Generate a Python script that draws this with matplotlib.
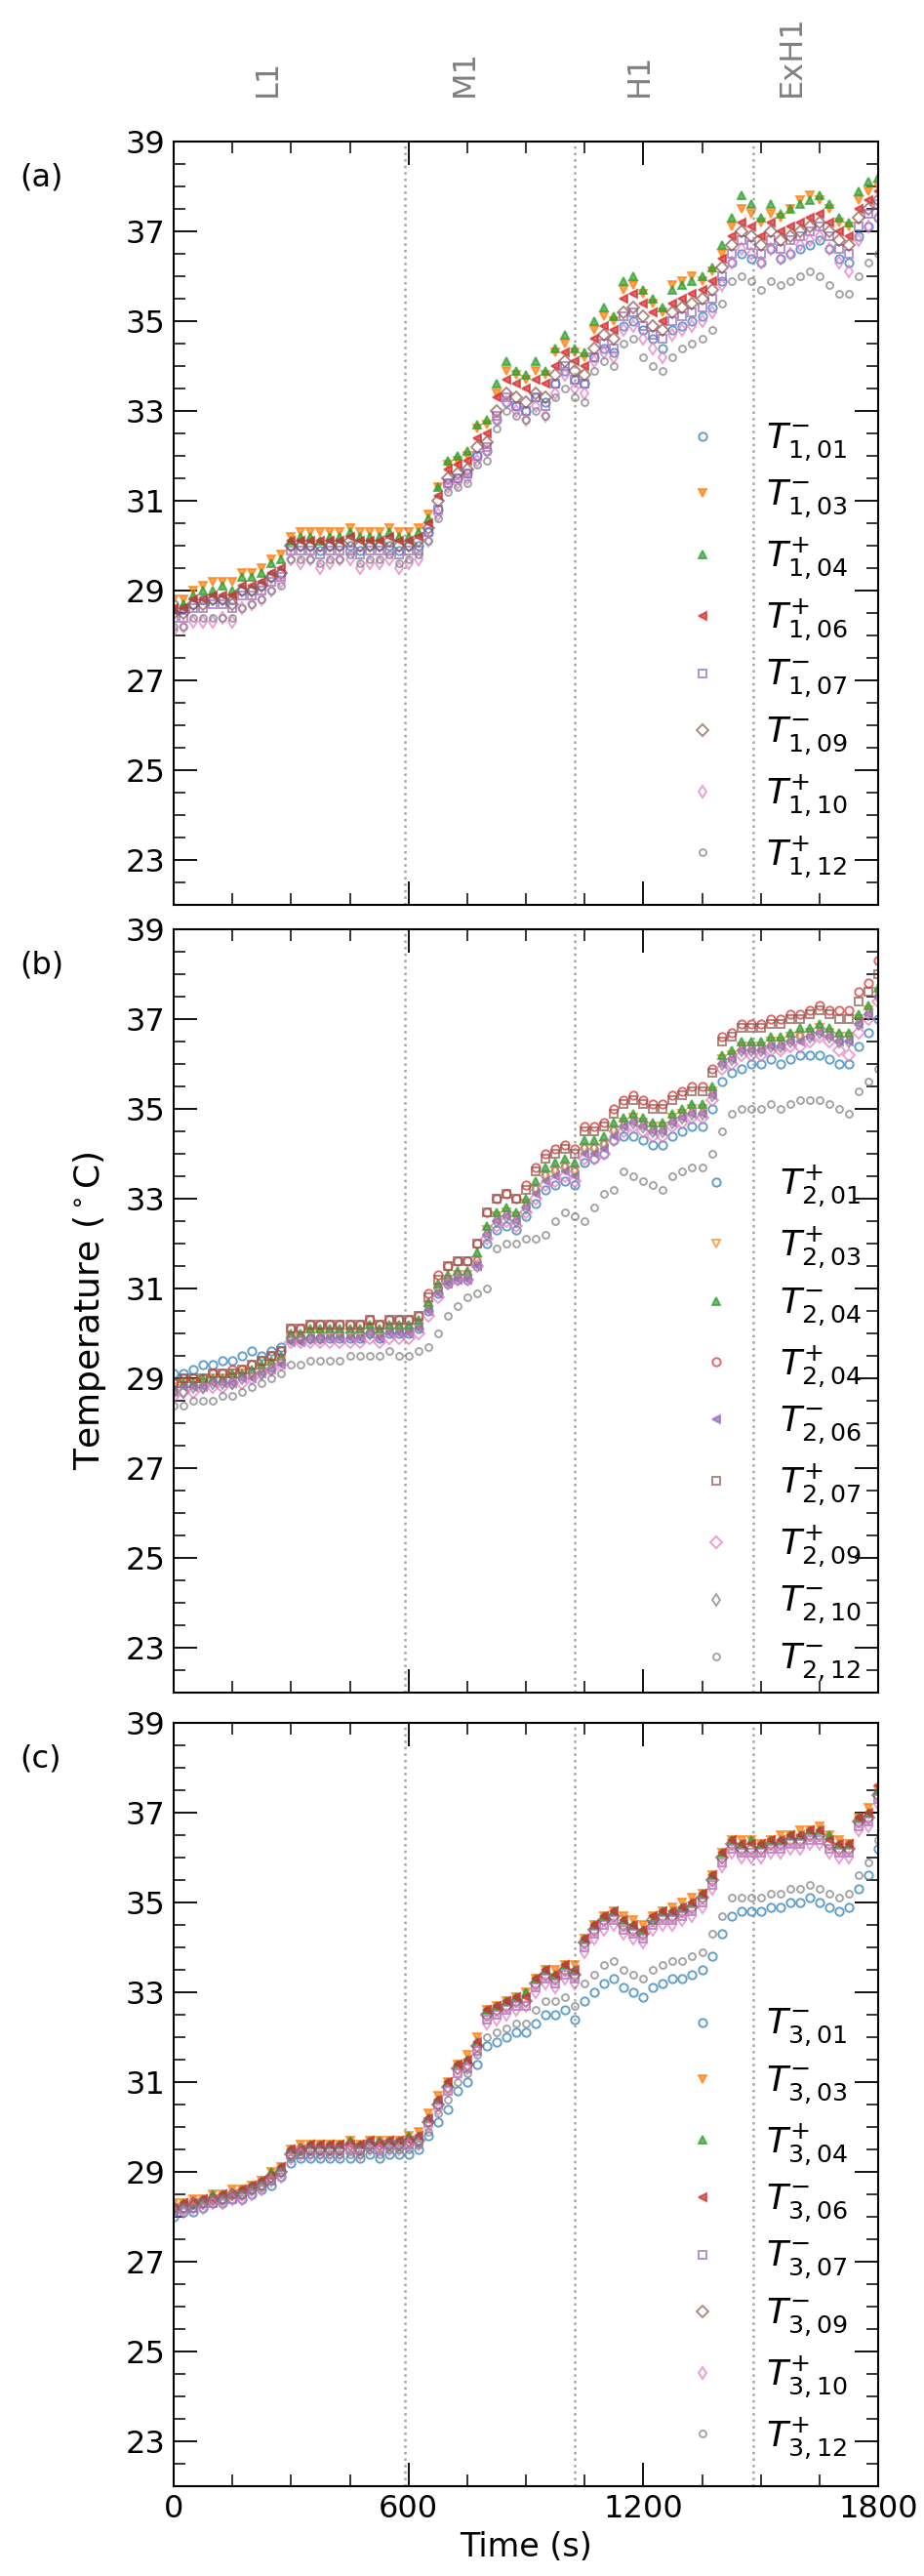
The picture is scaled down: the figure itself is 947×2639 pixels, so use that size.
import matplotlib
matplotlib.use("Agg")
import matplotlib.pyplot as plt
import numpy as np
from matplotlib.ticker import MultipleLocator, FixedLocator

# sample times (s), one reading every 25 s
time_s = np.arange(0, 1801, 25)

# ---------------- panel (a) ----------------
a_labels = [r"$T^{-}_{1,01}$", r"$T^{-}_{1,03}$", r"$T^{+}_{1,04}$", r"$T^{+}_{1,06}$",
            r"$T^{-}_{1,07}$", r"$T^{-}_{1,09}$", r"$T^{+}_{1,10}$", r"$T^{+}_{1,12}$"]
a_T101 = [28.7, 28.6, 28.7, 28.8, 28.8, 28.8, 28.8, 29.0, 29.0, 29.1, 29.3, 29.4,
          30.0, 30.0, 30.0, 29.9, 30.0, 30.0, 30.0, 29.9, 30.0, 30.0, 30.0, 29.9,
          30.0, 30.0, 30.3, 30.8, 31.4, 31.5, 31.6, 32.0, 32.1, 32.8, 33.2, 33.1,
          33.0, 33.3, 33.2, 33.6, 33.9, 33.7, 33.6, 34.2, 34.4, 34.3, 34.9, 35.0,
          34.8, 34.6, 34.4, 34.8, 34.9, 35.0, 35.1, 35.3, 35.9, 36.3, 36.5, 36.4,
          36.3, 36.6, 36.4, 36.5, 36.6, 36.7, 36.8, 36.6, 36.4, 36.3, 36.9, 37.1, 37.3]
a_T103 = [28.8, 28.8, 29.0, 29.1, 29.2, 29.2, 29.2, 29.4, 29.4, 29.5, 29.7, 29.8,
          30.2, 30.3, 30.3, 30.3, 30.3, 30.3, 30.4, 30.3, 30.3, 30.3, 30.4, 30.3,
          30.3, 30.4, 30.7, 31.3, 31.8, 31.9, 32.0, 32.6, 32.7, 33.4, 33.9, 33.8,
          33.7, 33.9, 33.8, 34.3, 34.5, 34.3, 34.2, 34.8, 35.1, 35.0, 35.7, 35.8,
          35.6, 35.4, 35.2, 35.8, 35.9, 36.0, 35.9, 36.1, 36.5, 37.1, 37.5, 37.4,
          37.2, 37.4, 37.3, 37.5, 37.7, 37.8, 37.7, 37.5, 37.2, 37.1, 37.7, 37.9, 38.0]
a_T104 = [28.6, 28.7, 28.9, 29.0, 29.0, 29.1, 29.0, 29.3, 29.3, 29.4, 29.6, 29.7,
          30.1, 30.2, 30.2, 30.1, 30.2, 30.2, 30.3, 30.2, 30.2, 30.2, 30.3, 30.2,
          30.2, 30.3, 30.6, 31.3, 31.9, 32.0, 32.1, 32.7, 32.8, 33.6, 34.1, 33.9,
          33.8, 34.1, 33.9, 34.4, 34.7, 34.4, 34.3, 35.0, 35.3, 35.1, 35.9, 36.0,
          35.7, 35.5, 35.3, 35.7, 35.8, 35.9, 36.0, 36.2, 36.7, 37.3, 37.8, 37.6,
          37.3, 37.6, 37.4, 37.5, 37.6, 37.7, 37.8, 37.6, 37.3, 37.2, 37.9, 38.1, 38.2]
a_T106 = [28.6, 28.6, 28.8, 28.8, 28.9, 28.9, 28.9, 29.1, 29.1, 29.2, 29.4, 29.5,
          30.1, 30.1, 30.1, 30.1, 30.1, 30.1, 30.2, 30.1, 30.1, 30.1, 30.2, 30.1,
          30.1, 30.2, 30.5, 31.1, 31.7, 31.8, 31.9, 32.4, 32.5, 33.3, 33.7, 33.6,
          33.5, 33.7, 33.6, 34.0, 34.3, 34.1, 34.0, 34.6, 34.9, 34.8, 35.5, 35.6,
          35.4, 35.2, 35.0, 35.4, 35.5, 35.6, 35.7, 35.9, 36.4, 36.9, 37.2, 37.1,
          36.9, 37.2, 37.0, 37.1, 37.2, 37.3, 37.4, 37.2, 37.0, 36.9, 37.5, 37.7, 37.9]
a_T107 = [28.4, 28.4, 28.6, 28.6, 28.7, 28.7, 28.6, 28.9, 28.9, 29.0, 29.2, 29.3,
          29.9, 29.9, 29.9, 29.8, 29.9, 29.9, 29.9, 29.8, 29.9, 29.9, 29.9, 29.8,
          29.9, 29.9, 30.3, 30.8, 31.4, 31.5, 31.6, 32.0, 32.2, 32.9, 33.3, 33.1,
          33.0, 33.3, 33.1, 33.6, 34.0, 33.7, 33.6, 34.2, 34.5, 34.4, 35.1, 35.2,
          34.9, 34.7, 34.6, 35.0, 35.1, 35.2, 35.3, 35.5, 36.0, 36.5, 36.8, 36.7,
          36.5, 36.8, 36.6, 36.8, 36.9, 37.0, 37.1, 36.9, 36.6, 36.5, 37.1, 37.4, 37.6]
a_T109 = [28.5, 28.5, 28.7, 28.7, 28.8, 28.8, 28.7, 29.0, 29.0, 29.1, 29.3, 29.4,
          30.0, 30.0, 30.0, 30.0, 30.0, 30.0, 30.1, 30.0, 30.0, 30.0, 30.1, 30.0,
          30.0, 30.1, 30.4, 31.0, 31.5, 31.6, 31.7, 32.2, 32.3, 33.0, 33.4, 33.3,
          33.2, 33.4, 33.3, 33.8, 34.1, 33.9, 33.8, 34.4, 34.7, 34.6, 35.2, 35.3,
          35.1, 34.9, 34.8, 35.2, 35.3, 35.4, 35.5, 35.7, 36.2, 36.7, 37.0, 36.9,
          36.7, 37.0, 36.8, 36.9, 37.0, 37.1, 37.2, 37.0, 36.8, 36.7, 37.3, 37.5, 37.7]
a_T110 = [28.1, 28.2, 28.3, 28.3, 28.3, 28.4, 28.3, 28.6, 28.7, 28.8, 29.0, 29.2,
          29.7, 29.6, 29.7, 29.5, 29.6, 29.7, 29.7, 29.5, 29.6, 29.6, 29.7, 29.5,
          29.6, 29.7, 30.1, 30.7, 31.3, 31.4, 31.5, 31.9, 32.1, 32.8, 33.2, 33.0,
          32.8, 33.1, 32.9, 33.4, 33.8, 33.5, 33.4, 34.1, 34.3, 34.2, 34.8, 34.9,
          34.6, 34.4, 34.2, 34.7, 34.8, 34.9, 35.0, 35.2, 35.8, 36.3, 36.6, 36.5,
          36.3, 36.6, 36.4, 36.5, 36.7, 36.8, 36.9, 36.6, 36.3, 36.1, 36.8, 37.1, 37.3]
a_T112 = [28.2, 28.2, 28.4, 28.4, 28.4, 28.4, 28.4, 28.6, 28.7, 28.8, 29.0, 29.1,
          29.7, 29.7, 29.7, 29.6, 29.7, 29.7, 29.8, 29.6, 29.7, 29.7, 29.8, 29.6,
          29.7, 29.8, 30.1, 30.6, 31.2, 31.3, 31.4, 31.8, 31.9, 32.6, 33.0, 32.9,
          32.8, 33.0, 32.9, 33.3, 33.5, 33.3, 33.2, 33.9, 34.1, 34.0, 34.5, 34.6,
          34.2, 34.0, 33.9, 34.2, 34.4, 34.5, 34.6, 34.8, 35.4, 35.9, 36.0, 35.9,
          35.7, 35.9, 35.8, 35.9, 36.0, 36.1, 36.0, 35.8, 35.6, 35.6, 36.0, 36.3, 36.5]

# ---------------- panel (b) ----------------
b_labels = [r"$T^{+}_{2,01}$", r"$T^{+}_{2,03}$", r"$T^{-}_{2,04}$", r"$T^{+}_{2,04}$",
            r"$T^{-}_{2,06}$", r"$T^{+}_{2,07}$", r"$T^{+}_{2,09}$", r"$T^{-}_{2,10}$",
            r"$T^{-}_{2,12}$"]
b_T201 = [29.1, 29.1, 29.2, 29.3, 29.3, 29.4, 29.4, 29.5, 29.6, 29.5, 29.6, 29.7,
          29.9, 29.9, 29.9, 29.9, 29.9, 29.9, 29.9, 29.9, 30.0, 29.9, 30.0, 30.0,
          30.0, 30.1, 30.5, 30.9, 31.1, 31.2, 31.2, 31.5, 32.0, 32.3, 32.4, 32.3,
          32.6, 32.9, 33.2, 33.3, 33.4, 33.3, 33.8, 33.9, 34.0, 34.3, 34.4, 34.4,
          34.3, 34.2, 34.2, 34.4, 34.5, 34.6, 34.6, 35.0, 35.6, 35.8, 35.9, 36.0,
          36.0, 36.1, 36.0, 36.1, 36.2, 36.2, 36.2, 36.1, 36.0, 36.0, 36.4, 36.7, 37.0]
b_T203 = [28.8, 28.9, 28.9, 28.9, 29.0, 29.0, 29.0, 29.1, 29.1, 29.2, 29.3, 29.4,
          29.9, 29.9, 30.0, 30.0, 30.0, 30.0, 30.0, 30.0, 30.1, 30.0, 30.1, 30.1,
          30.1, 30.2, 30.6, 31.0, 31.2, 31.3, 31.3, 31.6, 32.3, 32.6, 32.7, 32.6,
          32.9, 33.2, 33.5, 33.6, 33.7, 33.6, 34.1, 34.1, 34.2, 34.5, 34.7, 34.8,
          34.7, 34.6, 34.6, 34.8, 34.9, 35.0, 35.0, 35.4, 36.1, 36.2, 36.4, 36.4,
          36.4, 36.5, 36.5, 36.6, 36.6, 36.7, 36.8, 36.7, 36.6, 36.6, 37.0, 37.2, 37.6]
b_T204m = [28.8, 28.9, 28.9, 29.0, 29.0, 29.0, 29.1, 29.1, 29.2, 29.3, 29.4, 29.5,
           30.0, 30.0, 30.1, 30.1, 30.1, 30.1, 30.1, 30.1, 30.2, 30.1, 30.2, 30.2,
           30.2, 30.3, 30.7, 31.1, 31.3, 31.4, 31.4, 31.8, 32.4, 32.7, 32.8, 32.7,
           33.0, 33.4, 33.7, 33.8, 33.9, 33.8, 34.3, 34.3, 34.4, 34.7, 34.8, 34.9,
           34.8, 34.7, 34.7, 34.9, 35.0, 35.1, 35.1, 35.5, 36.2, 36.3, 36.5, 36.5,
           36.5, 36.6, 36.6, 36.7, 36.8, 36.8, 36.9, 36.8, 36.7, 36.7, 37.1, 37.3, 37.7]
b_T204p = [28.9, 29.0, 29.0, 29.0, 29.1, 29.1, 29.2, 29.2, 29.3, 29.4, 29.5, 29.6,
           30.1, 30.1, 30.2, 30.2, 30.2, 30.2, 30.2, 30.2, 30.3, 30.2, 30.3, 30.3,
           30.3, 30.4, 30.9, 31.3, 31.5, 31.6, 31.6, 32.0, 32.7, 33.0, 33.1, 33.0,
           33.3, 33.7, 34.0, 34.1, 34.2, 34.1, 34.6, 34.6, 34.7, 35.0, 35.2, 35.3,
           35.2, 35.1, 35.1, 35.3, 35.4, 35.5, 35.5, 35.9, 36.6, 36.7, 36.9, 36.9,
           36.9, 37.0, 37.0, 37.1, 37.1, 37.2, 37.3, 37.2, 37.2, 37.2, 37.6, 37.8, 38.3]
b_T206 = [28.7, 28.8, 28.8, 28.8, 28.9, 28.9, 28.9, 29.0, 29.0, 29.1, 29.2, 29.3,
          29.8, 29.8, 29.9, 29.9, 29.9, 29.9, 29.9, 29.9, 30.0, 29.9, 30.0, 30.0,
          30.0, 30.1, 30.5, 30.9, 31.1, 31.2, 31.2, 31.5, 32.2, 32.5, 32.6, 32.5,
          32.8, 33.1, 33.4, 33.5, 33.6, 33.5, 34.0, 34.0, 34.1, 34.4, 34.6, 34.7,
          34.6, 34.5, 34.5, 34.7, 34.8, 34.9, 34.9, 35.3, 36.0, 36.1, 36.3, 36.3,
          36.3, 36.4, 36.4, 36.5, 36.5, 36.6, 36.7, 36.6, 36.5, 36.5, 36.9, 37.1, 37.5]
b_T207 = [28.9, 29.0, 29.0, 29.0, 29.1, 29.1, 29.1, 29.2, 29.3, 29.4, 29.5, 29.6,
          30.1, 30.1, 30.2, 30.2, 30.2, 30.2, 30.2, 30.2, 30.3, 30.2, 30.3, 30.3,
          30.3, 30.4, 30.8, 31.2, 31.5, 31.6, 31.6, 32.0, 32.7, 33.0, 33.1, 33.0,
          33.2, 33.6, 33.9, 34.0, 34.1, 34.0, 34.5, 34.5, 34.6, 34.9, 35.1, 35.2,
          35.1, 35.0, 35.0, 35.2, 35.3, 35.4, 35.4, 35.8, 36.5, 36.6, 36.8, 36.8,
          36.8, 36.9, 36.9, 37.0, 37.0, 37.1, 37.2, 37.1, 37.0, 37.0, 37.4, 37.6, 38.0]
b_T209 = [28.6, 28.7, 28.7, 28.8, 28.8, 28.8, 28.9, 28.9, 29.0, 29.1, 29.2, 29.3,
          29.8, 29.8, 29.8, 29.8, 29.8, 29.8, 29.8, 29.8, 29.9, 29.8, 29.9, 29.9,
          29.9, 30.0, 30.4, 30.8, 31.1, 31.2, 31.2, 31.5, 32.1, 32.4, 32.5, 32.4,
          32.7, 33.0, 33.3, 33.4, 33.5, 33.4, 33.9, 33.9, 34.0, 34.3, 34.5, 34.6,
          34.5, 34.4, 34.4, 34.6, 34.7, 34.8, 34.8, 35.2, 35.9, 36.0, 36.2, 36.2,
          36.2, 36.3, 36.3, 36.4, 36.4, 36.5, 36.6, 36.5, 36.3, 36.2, 36.7, 37.0, 37.4]
b_T210 = [28.7, 28.7, 28.8, 28.8, 28.9, 28.9, 28.9, 29.0, 29.1, 29.1, 29.2, 29.4,
          29.9, 29.9, 29.9, 29.9, 30.0, 30.0, 30.0, 30.0, 30.0, 30.0, 30.1, 30.1,
          30.1, 30.2, 30.6, 31.0, 31.2, 31.3, 31.3, 31.6, 32.2, 32.5, 32.6, 32.5,
          32.8, 33.2, 33.5, 33.6, 33.7, 33.6, 34.1, 34.1, 34.2, 34.5, 34.6, 34.7,
          34.6, 34.5, 34.5, 34.7, 34.8, 34.9, 34.9, 35.3, 36.0, 36.1, 36.3, 36.3,
          36.3, 36.4, 36.4, 36.5, 36.6, 36.6, 36.7, 36.6, 36.5, 36.5, 36.9, 37.1, 37.5]
b_T212 = [28.4, 28.4, 28.5, 28.5, 28.5, 28.6, 28.6, 28.7, 28.8, 28.9, 29.0, 29.1,
          29.3, 29.3, 29.4, 29.4, 29.4, 29.4, 29.5, 29.5, 29.5, 29.5, 29.6, 29.5,
          29.5, 29.6, 29.7, 30.0, 30.4, 30.6, 30.8, 30.9, 31.0, 31.9, 32.0, 32.0,
          32.1, 32.1, 32.2, 32.5, 32.7, 32.6, 32.5, 32.8, 33.1, 33.2, 33.6, 33.5,
          33.4, 33.3, 33.2, 33.5, 33.6, 33.7, 33.7, 34.0, 34.5, 34.9, 35.0, 35.0,
          35.0, 35.1, 35.0, 35.1, 35.2, 35.2, 35.2, 35.1, 35.0, 34.9, 35.4, 35.6, 35.9]

# ---------------- panel (c) ----------------
c_labels = [r"$T^{-}_{3,01}$", r"$T^{-}_{3,03}$", r"$T^{+}_{3,04}$", r"$T^{-}_{3,06}$",
            r"$T^{-}_{3,07}$", r"$T^{-}_{3,09}$", r"$T^{+}_{3,10}$", r"$T^{+}_{3,12}$"]
c_T301 = [28.0, 28.1, 28.1, 28.2, 28.3, 28.3, 28.4, 28.4, 28.5, 28.6, 28.7, 28.9,
          29.2, 29.3, 29.3, 29.3, 29.3, 29.3, 29.3, 29.3, 29.4, 29.3, 29.4, 29.4,
          29.4, 29.5, 29.8, 30.1, 30.4, 30.8, 31.0, 31.4, 31.8, 31.9, 32.0, 32.1,
          32.1, 32.3, 32.5, 32.5, 32.6, 32.4, 32.8, 33.0, 33.2, 33.3, 33.1, 33.0,
          32.9, 33.1, 33.2, 33.3, 33.3, 33.4, 33.5, 33.8, 34.3, 34.7, 34.8, 34.8,
          34.8, 34.9, 34.9, 35.0, 35.0, 35.1, 35.0, 34.9, 34.8, 34.9, 35.3, 35.6, 36.2]
c_T303 = [28.3, 28.3, 28.4, 28.4, 28.5, 28.5, 28.6, 28.6, 28.7, 28.8, 29.0, 29.1,
          29.5, 29.6, 29.6, 29.6, 29.6, 29.6, 29.7, 29.6, 29.7, 29.7, 29.7, 29.7,
          29.8, 29.9, 30.3, 30.7, 31.0, 31.4, 31.6, 32.0, 32.6, 32.7, 32.8, 32.9,
          33.0, 33.3, 33.5, 33.5, 33.6, 33.6, 34.2, 34.5, 34.7, 34.8, 34.7, 34.6,
          34.5, 34.7, 34.8, 34.9, 35.0, 35.1, 35.2, 35.6, 36.1, 36.4, 36.4, 36.4,
          36.3, 36.4, 36.5, 36.5, 36.6, 36.6, 36.7, 36.5, 36.4, 36.3, 36.9, 37.1, 37.5]
c_T304 = [28.2, 28.3, 28.3, 28.4, 28.5, 28.5, 28.5, 28.6, 28.7, 28.8, 29.0, 29.1,
          29.5, 29.5, 29.6, 29.6, 29.6, 29.6, 29.7, 29.6, 29.7, 29.7, 29.7, 29.7,
          29.8, 29.8, 30.2, 30.6, 31.0, 31.4, 31.5, 31.9, 32.6, 32.7, 32.8, 32.9,
          33.0, 33.3, 33.5, 33.4, 33.6, 33.5, 34.2, 34.5, 34.7, 34.8, 34.6, 34.5,
          34.4, 34.6, 34.8, 34.8, 34.9, 35.0, 35.2, 35.6, 36.1, 36.4, 36.3, 36.4,
          36.3, 36.4, 36.4, 36.5, 36.5, 36.6, 36.6, 36.5, 36.3, 36.3, 36.9, 37.0, 37.5]
c_T306 = [28.2, 28.3, 28.3, 28.4, 28.4, 28.5, 28.5, 28.6, 28.7, 28.8, 28.9, 29.1,
          29.5, 29.5, 29.6, 29.6, 29.6, 29.6, 29.6, 29.6, 29.7, 29.6, 29.7, 29.7,
          29.7, 29.8, 30.2, 30.6, 31.0, 31.4, 31.5, 31.9, 32.6, 32.7, 32.8, 32.9,
          32.9, 33.3, 33.5, 33.4, 33.6, 33.5, 34.2, 34.5, 34.7, 34.8, 34.6, 34.5,
          34.4, 34.7, 34.8, 34.8, 34.9, 35.0, 35.2, 35.6, 36.1, 36.4, 36.3, 36.3,
          36.3, 36.4, 36.4, 36.5, 36.5, 36.6, 36.6, 36.4, 36.3, 36.3, 36.9, 37.0, 37.6]
c_T307 = [28.1, 28.2, 28.2, 28.3, 28.3, 28.4, 28.4, 28.5, 28.6, 28.7, 28.8, 29.0,
          29.4, 29.4, 29.5, 29.5, 29.5, 29.5, 29.5, 29.5, 29.6, 29.5, 29.6, 29.6,
          29.6, 29.7, 30.1, 30.5, 30.8, 31.2, 31.3, 31.7, 32.4, 32.5, 32.6, 32.7,
          32.7, 33.1, 33.3, 33.2, 33.4, 33.3, 34.0, 34.3, 34.5, 34.6, 34.4, 34.3,
          34.2, 34.5, 34.6, 34.6, 34.7, 34.8, 35.0, 35.4, 35.9, 36.2, 36.1, 36.1,
          36.1, 36.2, 36.2, 36.3, 36.3, 36.4, 36.4, 36.2, 36.1, 36.1, 36.7, 36.8, 37.3]
c_T309 = [28.2, 28.2, 28.3, 28.3, 28.4, 28.4, 28.5, 28.5, 28.6, 28.7, 28.9, 29.0,
          29.4, 29.5, 29.5, 29.5, 29.5, 29.5, 29.6, 29.5, 29.6, 29.6, 29.6, 29.6,
          29.7, 29.7, 30.1, 30.5, 30.9, 31.3, 31.4, 31.8, 32.5, 32.6, 32.7, 32.8,
          32.8, 33.2, 33.4, 33.3, 33.5, 33.4, 34.1, 34.4, 34.6, 34.7, 34.5, 34.4,
          34.3, 34.6, 34.7, 34.7, 34.8, 34.9, 35.1, 35.5, 36.0, 36.3, 36.2, 36.2,
          36.2, 36.3, 36.3, 36.4, 36.4, 36.5, 36.5, 36.3, 36.2, 36.2, 36.8, 36.9, 37.4]
c_T310 = [28.1, 28.1, 28.2, 28.2, 28.3, 28.3, 28.4, 28.4, 28.5, 28.6, 28.8, 28.9,
          29.3, 29.4, 29.4, 29.4, 29.4, 29.4, 29.5, 29.4, 29.5, 29.5, 29.5, 29.5,
          29.6, 29.6, 30.0, 30.4, 30.8, 31.2, 31.3, 31.7, 32.3, 32.4, 32.5, 32.6,
          32.7, 33.0, 33.2, 33.1, 33.3, 33.2, 33.9, 34.2, 34.4, 34.5, 34.3, 34.2,
          34.1, 34.4, 34.5, 34.5, 34.6, 34.7, 34.9, 35.3, 35.8, 36.1, 36.0, 36.0,
          36.0, 36.1, 36.1, 36.2, 36.2, 36.3, 36.3, 36.1, 36.0, 36.0, 36.6, 36.7, 37.2]
c_T312 = [28.1, 28.2, 28.2, 28.3, 28.4, 28.4, 28.5, 28.5, 28.6, 28.7, 28.8, 29.0,
          29.3, 29.4, 29.4, 29.4, 29.4, 29.4, 29.4, 29.4, 29.5, 29.4, 29.5, 29.5,
          29.5, 29.6, 29.9, 30.3, 30.6, 31.0, 31.2, 31.6, 32.0, 32.1, 32.2, 32.3,
          32.3, 32.6, 32.8, 32.8, 32.9, 32.7, 33.2, 33.4, 33.6, 33.7, 33.5, 33.4,
          33.3, 33.5, 33.6, 33.7, 33.7, 33.8, 33.9, 34.3, 34.7, 35.1, 35.1, 35.1,
          35.1, 35.2, 35.2, 35.3, 35.3, 35.4, 35.3, 35.2, 35.1, 35.2, 35.6, 35.9, 36.4]

# heating stages
stage_names = ["L1", "M1", "H1", "ExH1"]
stage_label_x = [240, 745, 1190, 1580]
stage_bounds = [592, 1025, 1481]

tab = plt.cm.tab10.colors
panels = [
    ("(a)", a_labels, [a_T101, a_T103, a_T104, a_T106, a_T107, a_T109, a_T110, a_T112],
     ["o", "v", "^", "<", "s", "D", "d", "o"],
     [False, True, True, True, False, False, False, False],
     [tab[0], tab[1], tab[2], tab[3], tab[4], tab[5], tab[6], tab[7]]),
    ("(b)", b_labels, [b_T201, b_T203, b_T204m, b_T204p, b_T206, b_T207, b_T209, b_T210, b_T212],
     ["o", "v", "^", "o", "<", "s", "D", "d", "o"],
     [False, False, True, False, True, False, False, False, False],
     [tab[0], tab[1], tab[2], tab[3], tab[4], tab[5], tab[6], tab[7], tab[7]]),
    ("(c)", c_labels, [c_T301, c_T303, c_T304, c_T306, c_T307, c_T309, c_T310, c_T312],
     ["o", "v", "^", "<", "s", "D", "d", "o"],
     [False, True, True, True, False, False, False, False],
     [tab[0], tab[1], tab[2], tab[3], tab[4], tab[5], tab[6], tab[7]]),
]

W, H = 947, 2639
fig = plt.figure(figsize=(W / 100, H / 100), dpi=100)
left, right = 178 / W, 900 / W
tops = [145, 952, 1765]
ph = 782
aw = 722
# legend anchors (axes fraction), panel (b) sits a bit lower/righter
leg_anchor = [(1 - 6 / aw, 0.0), (1 + 8 / aw, -16 / ph), (1 - 6 / aw, 0.0)]

axes = []
for k, (tag, labels, series, markers, filled, colors) in enumerate(panels):
    top = tops[k]
    ax = fig.add_axes([left, 1 - (top + ph) / H, right - left, ph / H])
    axes.append(ax)
    for lab, y, m, f, c in zip(labels, series, markers, filled, colors):
        ms = 5 if (m == "o" and c == tab[7]) else 6
        ax.plot(time_s, y, ls="none", marker=m, ms=ms, mew=1.4,
                mec=c, mfc=c if f else "none", alpha=0.7, label=lab)
    for xb in stage_bounds:
        ax.axvline(xb, color="gray", ls=":", lw=1.8, alpha=0.7)
    ax.set_xlim(0, 1800)
    ax.set_ylim(22, 39)
    ax.xaxis.set_major_locator(FixedLocator([0, 600, 1200, 1800]))
    ax.xaxis.set_minor_locator(MultipleLocator(150))
    ax.yaxis.set_major_locator(FixedLocator(np.arange(23, 40, 2)))
    ax.yaxis.set_minor_locator(MultipleLocator(0.5))
    ax.tick_params(which="both", direction="in", top=True, right=True,
                   labelsize=23, pad=6)
    ax.tick_params(which="major", length=17, width=1.3)
    ax.tick_params(which="minor", length=8.5, width=1.1)
    for sp in ax.spines.values():
        sp.set_linewidth(1.5)
    if k < 2:
        ax.tick_params(labelbottom=False)
    ax.legend(loc="lower right", bbox_to_anchor=leg_anchor[k], frameon=False,
              fontsize=26, numpoints=1, labelspacing=0.42, borderaxespad=0.3,
              handletextpad=0.8)
    fig.text(20 / W, 1 - (top + 37) / H, tag, fontsize=23, va="center", ha="left")

axes[-1].set_xlabel("Time (s)", fontsize=24, labelpad=5)
# y label centred on the middle panel
fig.text(92 / W, 1 - (tops[1] + ph / 2) / H, r"Temperature ($^\circ$C)", rotation=90,
         fontsize=26, va="center", ha="center")

for name, xs in zip(stage_names, stage_label_x):
    axes[0].text(xs, 40.0, name, rotation=90, fontsize=23, color="gray",
                 ha="center", va="bottom")

fig.savefig("out.png", dpi=100)
